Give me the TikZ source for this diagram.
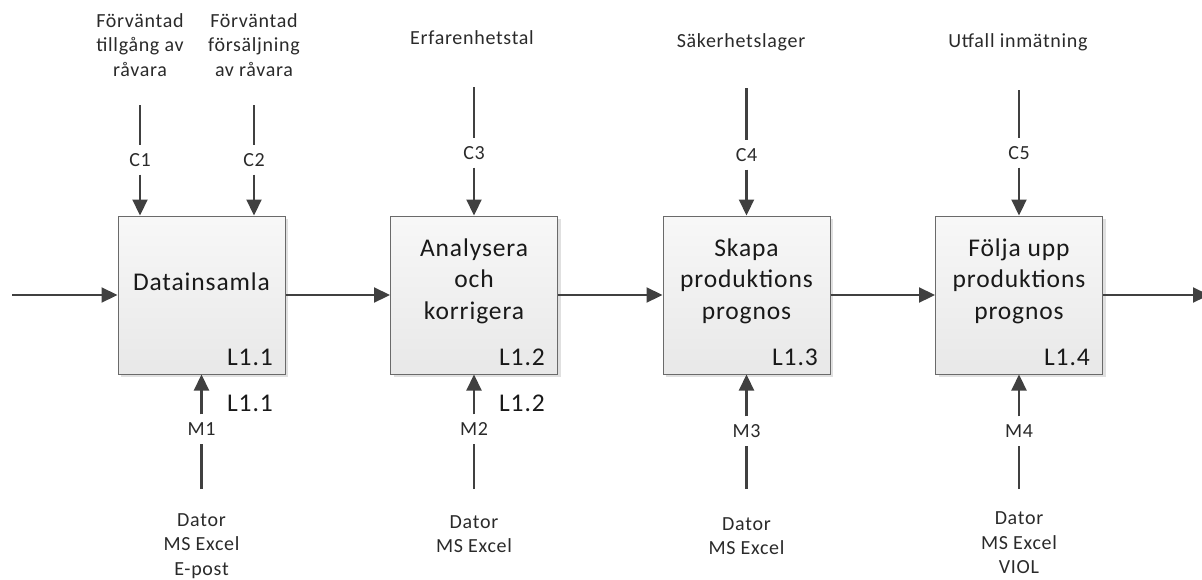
\documentclass[tikz,border=0pt]{standalone}
\usepackage{fontspec}
\setmainfont{Carlito}[LetterSpace=3.5]
\usetikzlibrary{arrows.meta,shadows}

\definecolor{ink}{HTML}{404040}
\definecolor{boxedge}{HTML}{6A6A6A}
\definecolor{txt}{HTML}{2A2A2A}

\tikzset{
  proc/.style={draw=boxedge, line width=1pt, top color=white!97!black,
    bottom color=black!9, minimum width=167pt, minimum height=158pt,
    inner sep=0pt,
    drop shadow={shadow xshift=3pt, shadow yshift=-3pt, fill=black!12, opacity=1}},
  flow/.style={draw=ink, line width=2.2pt, -{Triangle[length=16pt,width=15pt]}},
  stem/.style={draw=ink, line width=2.2pt},
  small/.style={text=txt, font=\fontsize{20}{24.5}\selectfont, align=center, inner sep=0pt},
  big/.style={text=black!90, font=\fontsize{25.5}{31.5}\selectfont, align=center, inner sep=0pt},
  tag/.style={small, minimum height=29pt},
  code/.style={text=black!90, font=\fontsize{25.5}{31.5}\selectfont, inner sep=0pt, anchor=base east},
}

\begin{document}
\begin{tikzpicture}[x=1pt,y=-1pt]
\useasboundingbox (0,0) rectangle (1202,579);

% activity boxes
\node[proc] (b1) at (201.5,295) {};
\node[proc] (b2) at (474,295) {};
\node[proc] (b3) at (746.5,295) {};
\node[proc] (b4) at (1019,295) {};

% box titles
\node[big] (n1) at (201.5,282) {Datainsamla};
\node[big] (n2) at (474,281) {Analysera\\och\\korrigera};
\node[big] (n3) at (746.5,281) {Skapa\\produktions\\prognos};
\node[big] (n4) at (1019,281) {Följa upp\\produktions\\prognos};

% box numbers
\node[code] (k1) at (273,365) {L1.1};
\node[code] (k2) at (545,365) {L1.2};
\node[code] (k3) at (818,365) {L1.3};
\node[code] (k4) at (1090,365) {L1.4};
\node[code] (k1b) at (273,411) {L1.1};
\node[code] (k2b) at (545,411) {L1.2};

% main flow
\coordinate (in) at (12,295);
\coordinate (out) at (1209,295);
\draw[flow] (in) -- (b1.west);
\draw[flow] (b1.east) -- (b2.west);
\draw[flow] (b2.east) -- (b3.west);
\draw[flow] (b3.east) -- (b4.west);
\draw[flow] (b4.east) -- (out);

% controls
\node[small] (t1) at (140,45) {Förväntad\\tillgång av\\råvara};
\node[small] (t2) at (254,45) {Förväntad\\försäljning\\av råvara};
\node[small] (t3) at (472,38) {Erfarenhetstal};
\node[small] (t4) at (741,42) {Säkerhetslager};
\node[small] (t5) at (1018,42) {Utfall inmätning};

\node[tag] (c1) at (140,160) {C1};
\node[tag] (c2) at (254,160) {C2};
\node[tag] (c3) at (474,153) {C3};
\node[tag] (c4) at (746.5,155) {C4};
\node[tag] (c5) at (1019,153) {C5};

\coordinate (c1s) at (140,105);
\coordinate (c2s) at (254,105);
\coordinate (c3s) at (474,87);
\coordinate (c4s) at (746.5,88);
\coordinate (c5s) at (1019,90);

\foreach \i/\b in {1/b1,2/b1,3/b2,4/b3,5/b4}{
  \draw[stem] (c\i s) -- (c\i.north);
  \draw[flow] (c\i.south) -- (c\i |- \b.north);
}

% mechanisms
\node[tag] (m1) at (201.5,429) {M1};
\node[tag] (m2) at (474,429) {M2};
\node[tag] (m3) at (746.5,431) {M3};
\node[tag] (m4) at (1019,431) {M4};

\coordinate (m1e) at (201.5,489);
\coordinate (m2e) at (474,489);
\coordinate (m3e) at (746.5,489);
\coordinate (m4e) at (1019,489);

\foreach \i/\b in {1/b1,2/b2,3/b3,4/b4}{
  \draw[stem] (m\i e) -- (m\i.south);
  \draw[flow] (m\i.north) -- (\b.south);
}

\node[small] (r1) at (201.5,546) {Dator\\MS Excel\\E-post};
\node[small] (r2) at (474,534) {Dator\\MS Excel};
\node[small] (r3) at (746.5,536) {Dator\\MS Excel};
\node[small] (r4) at (1019,543) {Dator\\MS Excel\\VIOL};
\end{tikzpicture}
\end{document}
